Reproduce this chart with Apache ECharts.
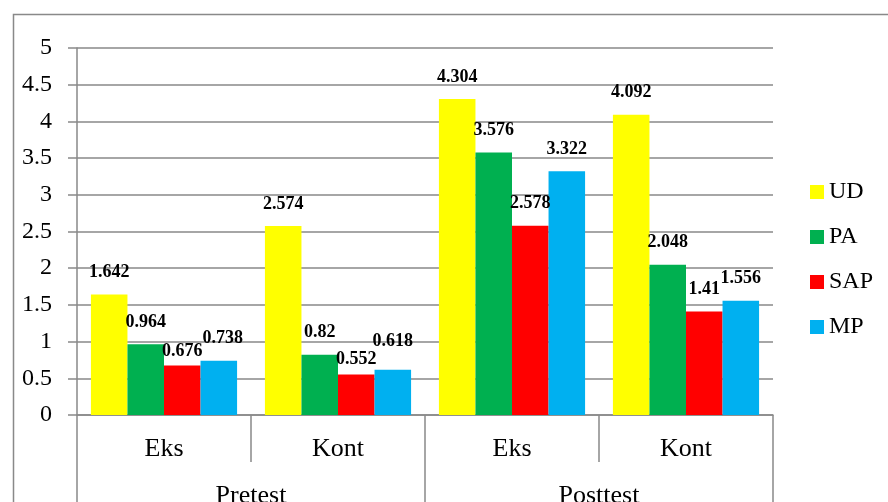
<!DOCTYPE html>
<html>
<head>
<meta charset="utf-8">
<script src="https://cdn.jsdelivr.net/npm/echarts@6/dist/echarts.min.js"></script>
<style>html,body{margin:0;padding:0;background:#fff;}#c{width:888px;height:502px;}</style>
</head>
<body>
<div id="c"></div>
<script>
const categories = ['Eks', 'Kont', 'Eks', 'Kont'];
const groups = ['Pretest', 'Posttest'];
const seriesNames = ['UD', 'PA', 'SAP', 'MP'];
const UD = [1.642, 2.574, 4.304, 4.092];
const PA = [0.964, 0.82, 3.576, 2.048];
const SAP = [0.676, 0.552, 2.578, 1.41];
const MP = [0.738, 0.618, 3.322, 1.556];
const yTicks = [0, 0.5, 1, 1.5, 2, 2.5, 3, 3.5, 4, 4.5, 5];

const colors = ['#FFFF00', '#00B050', '#FF0000', '#00B0F0'];
const labelNudge = { 'SAP:0': [0, 8], 'SAP:1': [0, 7], 'MP:1': [0, -6], 'MP:0': [4, 0] };
const FONT = 'Liberation Serif';
const GRAY = '#898989';

const values = [UD, PA, SAP, MP];
const chart = echarts.init(document.getElementById('c'));
chart.setOption({
  animation: false,
  backgroundColor: '#fff',
  textStyle: { fontFamily: FONT, color: '#000' },
  graphic: [{
    type: 'rect', left: 11, top: 12, silent: true,
    shape: { x: 0, y: 0, width: 1000, height: 1000 },
    style: { fill: 'none', stroke: GRAY, lineWidth: 1.5 }
  }],
  grid: { left: 77, right: 115, top: 48, bottom: 87, containLabel: false, outerBoundsMode: 'none' },
  legend: {
    orient: 'vertical', left: 805, top: 175,
    itemWidth: 14, itemHeight: 14, itemGap: 21,
    icon: 'rect',
    textStyle: { fontFamily: FONT, fontSize: 24, color: '#000' },
    data: seriesNames
  },
  xAxis: [{
    type: 'category', data: categories, position: 'bottom',
    axisLine: { show: true, lineStyle: { color: GRAY, width: 1.5 } },
    axisTick: { show: true, interval: 0, length: 47, lineStyle: { color: GRAY, width: 1.5 } },
    axisLabel: { fontFamily: FONT, fontSize: 26, color: '#000', margin: 21, interval: 0 }
  }, {
    type: 'category', data: groups, position: 'bottom',
    axisLine: { show: false },
    axisTick: { show: true, interval: 0, length: 120, lineStyle: { color: GRAY, width: 1.5 } },
    axisLabel: { fontFamily: FONT, fontSize: 26, color: '#000', margin: 68, interval: 0 }
  }],
  yAxis: {
    type: 'value', min: yTicks[0], max: yTicks[yTicks.length - 1], interval: yTicks[1] - yTicks[0],
    axisLine: { show: true, lineStyle: { color: GRAY, width: 1.5 } },
    axisTick: { show: true, length: 9, lineStyle: { color: GRAY, width: 1.5 } },
    splitLine: { show: true, lineStyle: { color: GRAY, width: 1.5 } },
    axisLabel: { fontFamily: FONT, fontSize: 24, color: '#000', margin: 25 }
  },
  series: seriesNames.map((name, si) => ({
    name: name, type: 'bar', xAxisIndex: 0,
    barGap: '0%', barCategoryGap: '16%',
    itemStyle: { color: colors[si] },
    label: {
      show: true, position: 'top', distance: 13,
      fontFamily: FONT, fontSize: 18, fontWeight: 'bold', color: '#000'
    },
    data: values[si].map((v, i) => {
      const n = labelNudge[name + ':' + i];
      return n ? { value: v, label: { offset: n } } : v;
    })
  }))
});
</script>
</body>
</html>
